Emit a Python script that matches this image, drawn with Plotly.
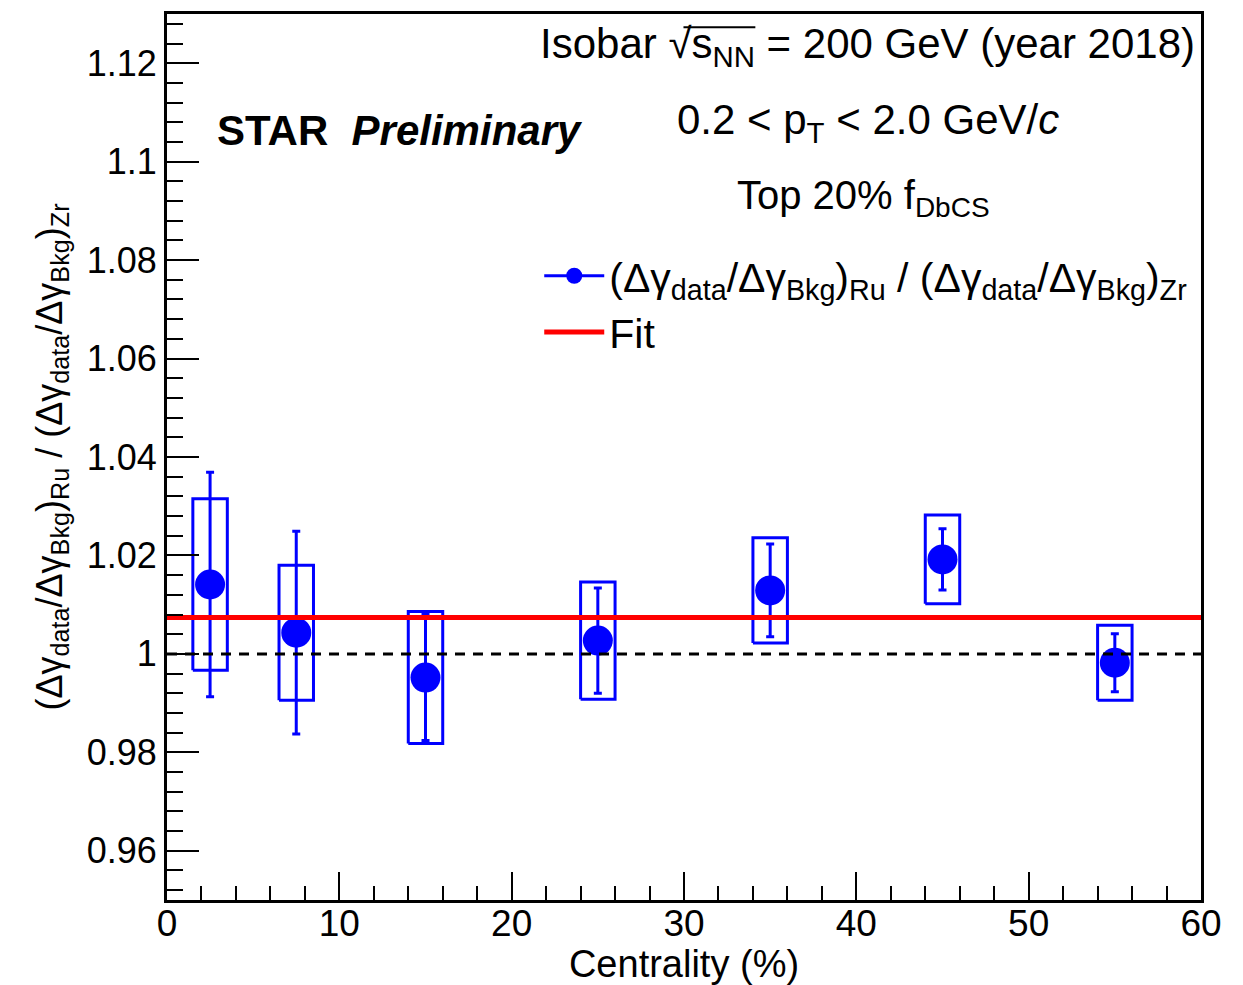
import plotly.graph_objects as go

# ---- data ----
centrality = [2.5, 7.5, 15, 25, 35, 45, 55]
ratio = [1.0141, 1.0043, 0.9952, 1.0027, 1.0129, 1.0192, 0.9982]
stat_err = [0.0228, 0.0206, 0.0128, 0.0107, 0.0094, 0.0062, 0.0059]
sys_err = [0.0174, 0.0137, 0.0134, 0.0119, 0.0107, 0.0090, 0.0076]
fit_value = 1.0074
x_range = [0, 60]
y_range = [0.95, 1.13]
y_tickvals = [0.96, 0.98, 1.0, 1.02, 1.04, 1.06, 1.08, 1.10, 1.12]
y_ticktext = ["0.96", "0.98", "1", "1.02", "1.04", "1.06", "1.08", "1.1", "1.12"]

BLUE = "#0000ff"
RED = "#ff0000"
FONT = "Liberation Sans, Arial, Helvetica, sans-serif"
box_half = 1.0  # half-width of systematic boxes (style)

fig = go.Figure()

# systematic boxes
bx, by = [], []
for x, y, s in zip(centrality, ratio, sys_err):
    bx += [x - box_half, x + box_half, x + box_half, x - box_half, x - box_half, None]
    by += [y - s, y - s, y + s, y + s, y - s, None]
fig.add_trace(go.Scatter(x=bx, y=by, mode="lines", line=dict(color=BLUE, width=3),
                         showlegend=False, hoverinfo="skip"))

# data points with stat errors
fig.add_trace(go.Scatter(
    x=centrality, y=ratio, mode="markers",
    marker=dict(color=BLUE, size=30, line=dict(width=0)),
    error_y=dict(type="data", array=stat_err, visible=True, color=BLUE, thickness=3, width=4),
    showlegend=False))

# legend entry for data
fig.add_trace(go.Scatter(
    x=[None], y=[None], mode="lines+markers",
    marker=dict(color=BLUE, size=30), line=dict(color=BLUE, width=3),
    name="(Δγ<sub>data</sub>/Δγ<sub>Bkg</sub>)<sub>Ru</sub> / (Δγ<sub>data</sub>/Δγ<sub>Bkg</sub>)<sub>Zr</sub>"))

# reference line at 1
fig.add_trace(go.Scatter(x=x_range, y=[1, 1], mode="lines",
                         line=dict(color="black", width=3, dash="10px,8px"),
                         showlegend=False, hoverinfo="skip"))

# fit line
fig.add_trace(go.Scatter(x=x_range, y=[fit_value, fit_value], mode="lines",
                         line=dict(color=RED, width=5), name="Fit"))

fig.update_layout(
    width=1243, height=985,
    margin=dict(l=167, r=42, t=14, b=85),
    paper_bgcolor="white", plot_bgcolor="white",
    font=dict(family=FONT, color="black", size=38),
    legend=dict(x=0.36, y=0.742, xanchor="left", yanchor="top",
                bgcolor="rgba(0,0,0,0)", font=dict(size=41), itemwidth=60,
                tracegroupgap=0),
)

fig.update_xaxes(
    range=x_range, showgrid=False, zeroline=False, automargin=False,
    showline=True, linewidth=3, linecolor="black", mirror=True,
    ticks="inside", ticklen=28, tickwidth=1.5, tickcolor="black", dtick=10, tick0=0,
    minor=dict(ticks="inside", ticklen=14, tickwidth=1.5, tickcolor="black", dtick=2),
    tickfont=dict(size=37), ticklabelstandoff=-11,
    title=dict(text="Centrality (%)", font=dict(size=38), standoff=0),
)
fig.update_yaxes(
    range=y_range, showgrid=False, zeroline=False, automargin=False,
    showline=True, linewidth=3, linecolor="black", mirror=True,
    ticks="inside", ticklen=32, tickwidth=1.5, tickcolor="black",
    tickvals=y_tickvals, ticktext=y_ticktext,
    minor=dict(ticks="inside", ticklen=16, tickwidth=1.5, tickcolor="black", dtick=0.004, tick0=0.96),
    tickfont=dict(size=36), ticklabelstandoff=0,
    title=dict(text="(Δγ<sub>data</sub>/Δγ<sub>Bkg</sub>)<sub>Ru</sub> / (Δγ<sub>data</sub>/Δγ<sub>Bkg</sub>)<sub>Zr</sub>",
               font=dict(size=36), standoff=14),
)

ann = dict(xref="paper", yref="paper", showarrow=False, font=dict(family=FONT, size=40, color="black"))
fig.add_annotation(text="Isobar √s<sub>NN</sub> = 200 GeV (year 2018)",
                   x=0.996, y=0.963, xanchor="right", yanchor="middle", **{**ann, "font": dict(family=FONT, size=42)})
# overline of the square root
fig.add_shape(type="line", xref="paper", yref="paper", x0=0.4995, x1=0.569, y0=0.985, y1=0.985,
              line=dict(color="black", width=2))
fig.add_annotation(text="0.2 < p<sub>T</sub> < 2.0 GeV/<i>c</i>",
                   x=0.678, y=0.878, xanchor="center", yanchor="middle", **{**ann, "font": dict(family=FONT, size=42)})
fig.add_annotation(text="Top 20% f<sub>DbCS</sub>",
                   x=0.549, y=0.792, xanchor="left", yanchor="middle", **ann)
fig.add_annotation(text="<b>STAR</b>  <b><i>Preliminary</i></b>",
                   x=0.046, y=0.868, xanchor="left", yanchor="middle",
                   **{**ann, "font": dict(family=FONT, size=42)})

fig.write_html("out.html")
